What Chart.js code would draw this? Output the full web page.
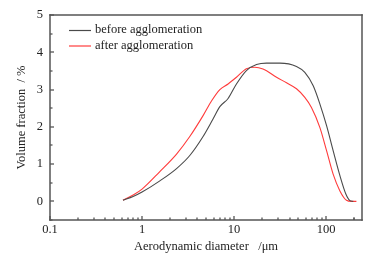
<!DOCTYPE html>
<html><head><meta charset="utf-8">
<script src="https://cdn.jsdelivr.net/npm/chart.js@4/dist/chart.umd.min.js"></script>
<style>html,body{margin:0;padding:0;background:#fff}#w{width:376px;height:261px}</style>
</head><body><div id="w"><canvas id="c"></canvas></div>
<script>
const seriesNames = ["before agglomeration", "after agglomeration"];
const beforeX = [0.62,0.8,1.0,1.56,2.37,3.3,4.6,5.9,7.0,8.6,10.6,13.6,17.5,22.5,31.4,47.6,58.6,72.3,85.5,101,119,141,164,181,197];
const beforeY = [0.03,0.13,0.25,0.55,0.88,1.23,1.74,2.21,2.54,2.76,3.15,3.51,3.67,3.71,3.71,3.62,3.46,3.10,2.61,2.03,1.36,0.69,0.19,0.02,0];
const afterX = [0.62,0.8,1.0,1.56,2.37,3.3,4.6,5.7,7.0,8.6,10.6,13.6,16.8,20.6,28.9,37.1,47.6,58.6,69.2,85.5,101,119,141,166,188,213];
const afterY = [0.03,0.17,0.33,0.80,1.27,1.74,2.30,2.70,3.00,3.15,3.33,3.56,3.60,3.55,3.33,3.18,3.02,2.79,2.52,1.98,1.36,0.73,0.28,0.03,0,0];
const xDecadeLabels = ["0.1","1","10","100"];
const yTickLabels = ["0","1","2","3","4","5"];
const xTitle = "Aerodynamic diameter   /μm";
const yTitle = "Volume fraction  / %";

const FONT = "'Liberation Serif', 'Times New Roman', serif";
const TXT = "#222";
const frameColor = "#555555";

function pts(xs, ys){ return xs.map((x,i)=>({x:x, y:ys[i]})); }

const xTickVals = [];
for (let e=-1; e<=2; e++) for (let m=1; m<=9; m++) { const v = m*Math.pow(10,e); if (v <= 245) xTickVals.push(+v.toPrecision(3)); }
xTickVals.push(200);

function seg(ctx, x1, y1, x2, y2){ ctx.beginPath(); ctx.moveTo(x1, y1); ctx.lineTo(x2, y2); ctx.stroke(); }

const frame = {
  id: 'frame',
  afterDraw(chart){
    const ctx = chart.ctx, a = chart.chartArea, xs = chart.scales.x, ys = chart.scales.y;
    const L = Math.round(a.left), T = Math.round(a.top), R = Math.round(a.right), B = Math.round(a.bottom);
    ctx.save();
    ctx.font = "12.5px " + FONT;
    ctx.textBaseline = 'middle';
    chart.data.datasets.forEach((ds,i)=>{
      const y = a.top + 15 + i*15.5;
      ctx.strokeStyle = ds.borderColor; ctx.lineWidth = 1.2;
      seg(ctx, a.left+19, y+0.5, a.left+41, y+0.5);
      ctx.fillStyle = TXT; ctx.fillText(ds.label, a.left+45, y);
    });
    ctx.strokeStyle = frameColor; ctx.lineWidth = 1.5; ctx.lineCap = 'square';
    seg(ctx, L, T, R, T);
    seg(ctx, R, T, R, B);
    seg(ctx, R, B, L, B);
    seg(ctx, L, B, L, T);
    ctx.lineWidth = 1.3; ctx.lineCap = 'butt';
    xTickVals.forEach(v=>{
      const px = Math.round(xs.getPixelForValue(v));
      const major = Math.abs(Math.log10(v) - Math.round(Math.log10(v))) < 1e-6;
      seg(ctx, px, B, px, B - (major ? 4 : 2.5));
    });
    for (let k=-1; k<=10; k++) {
      const py = Math.round(ys.getPixelForValue(k*0.5));
      seg(ctx, L, py, L + ((k%2===0) ? 4 : 2.5), py);
    }
    ctx.restore();
  }
};

new Chart(document.getElementById('c'), {
  type: 'line',
  data: { datasets: [
    { label: seriesNames[0], data: pts(beforeX, beforeY), borderColor: '#4a4a4a', borderWidth: 1.1, pointRadius: 0, cubicInterpolationMode: 'monotone', fill: false },
    { label: seriesNames[1], data: pts(afterX, afterY), borderColor: '#ff3b3b', borderWidth: 1.1, pointRadius: 0, cubicInterpolationMode: 'monotone', fill: false }
  ]},
  options: {
    responsive: true, maintainAspectRatio: false, animation: false,
    layout: { padding: { top: 15, right: 14, left: 0, bottom: 0 } },
    plugins: { legend: { display: false }, tooltip: { enabled: false } },
    scales: {
      x: {
        type: 'logarithmic', min: 0.1, max: 245,
        afterBuildTicks(s){ s.ticks = xTickVals.map(v=>({value:v})); },
        afterFit(s){ s.height = 41; },
        grid: { display: false, drawTicks: false }, border: { display: false },
        ticks: { autoSkip: false, maxRotation: 0, padding: 2, color: TXT, font: { family: FONT, size: 12.5 },
          callback(v){ const l = Math.log10(v); if (Math.abs(l-Math.round(l))<1e-6) return xDecadeLabels[Math.round(l)+1]; return ''; } },
        title: { display: true, text: xTitle, color: TXT, font: { family: FONT, size: 12.5 }, padding: { top: 0, bottom: 7 } }
      },
      y: {
        min: -0.5, max: 5,
        afterBuildTicks(s){ s.ticks = [0,1,2,3,4,5].map(v=>({value:v})); },
        afterFit(s){ s.width = 50; },
        grid: { display: false, drawTicks: false }, border: { display: false },
        ticks: { autoSkip: false, padding: 7, color: TXT, font: { family: FONT, size: 12.5 },
          callback(v){ return yTickLabels[Math.round(v)]; } },
        title: { display: true, text: yTitle, color: TXT, font: { family: FONT, size: 12.5 }, padding: { top: 14, bottom: 0 } }
      }
    }
  },
  plugins: [frame]
});
</script>
</body></html>
